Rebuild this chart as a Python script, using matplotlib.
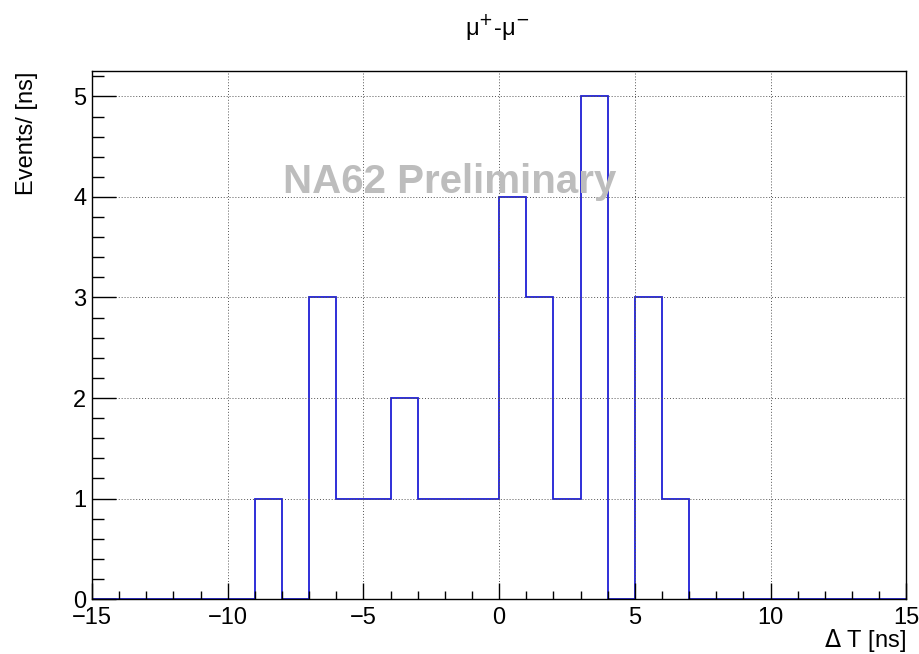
import matplotlib

matplotlib.use("Agg")
import matplotlib.pyplot as plt
import numpy as np
from matplotlib.ticker import MultipleLocator

plt.rcParams.update({"font.family": ["Liberation Sans", "DejaVu Sans"]})

# histogram: 1 ns bins from -15 to 15
bin_edges = np.arange(-15, 16, 1)
counts = [0, 0, 0, 0, 0, 0, 1, 0, 3, 1, 1, 2, 1, 1, 1,
          4, 3, 1, 5, 0, 3, 1, 0, 0, 0, 0, 0, 0, 0, 0]

fig = plt.figure(figsize=(9.2, 6.54), dpi=100)
ax = fig.add_axes([0.1, 0.084, 0.885, 0.807])

ax.stairs(counts, bin_edges, color="#1f1fd6", lw=1.3)

ax.set_xlim(-15, 15)
ax.set_ylim(0, 5.25)
ax.xaxis.set_major_locator(MultipleLocator(5))
ax.xaxis.set_minor_locator(MultipleLocator(1))
ax.yaxis.set_major_locator(MultipleLocator(1))
ax.yaxis.set_minor_locator(MultipleLocator(0.2))

ax.tick_params(axis="both", which="both", direction="in", labelsize=17, color="black", width=1)
ax.tick_params(axis="x", which="major", length=11.5, pad=6)
ax.tick_params(axis="x", which="minor", length=5.8)
ax.tick_params(axis="y", which="major", length=17.3, pad=4)
ax.tick_params(axis="y", which="minor", length=8.6)

ax.grid(True, which="major", color="#555555", ls=(0, (1, 2)), lw=0.7)
for s in ax.spines.values():
    s.set_color("black")
    s.set_linewidth(1.0)

fig.text(0.54, 0.958, "μ$^{+}$-μ$^{-}$", ha="center", va="center", fontsize=17,
         math_fontfamily="dejavusans")
ax.set_ylabel("Events/ [ns]", fontsize=17, loc="top")
ax.yaxis.set_label_coords(-0.066, 1.0)
ax.set_xlabel(r"$\Delta$ T [ns]", fontsize=17, loc="right", labelpad=0)
ax.xaxis.set_label_coords(1.0, -0.052)

ax.text(-7.95, 4.15, "NA62 Preliminary", color="#bdbdbd", fontsize=29, fontweight="bold",
        ha="left", va="center")

fig.savefig("out.png", facecolor="white")
